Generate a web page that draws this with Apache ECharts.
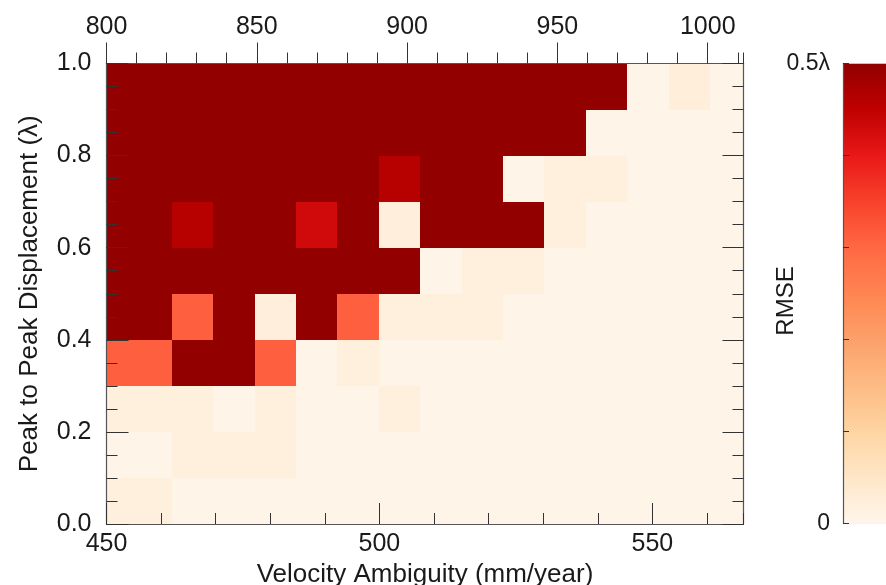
<!DOCTYPE html>
<html>
<head>
<meta charset="utf-8">
<title>RMSE vs velocity ambiguity and displacement</title>
<script src="https://cdn.jsdelivr.net/npm/echarts@6/dist/echarts.min.js"></script>
<style>
  html, body { margin: 0; padding: 0; background: #ffffff; }
  #chart { width: 886px; height: 585px; }
</style>
</head>
<body>
<div id="chart"></div>
<script>
// Column edges along the velocity-ambiguity axis (mm/year)
const velocityEdges = [450, 462.0, 469.6, 477.2, 484.8, 492.3, 499.9, 507.5, 515.1, 522.7, 530.2, 537.8, 545.4, 553.0, 560.6, 568.2];
// Row edges along the peak-to-peak displacement axis (wavelengths)
const displacementEdges = [0, 0.1, 0.2, 0.3, 0.4, 0.5, 0.6, 0.7, 0.8, 0.9, 1.0];

// RMSE (in wavelengths) per cell, one list per displacement row, bottom row first
const rmseRow0 = [0.018, 0.005, 0.005, 0.005, 0.005, 0.005, 0.005, 0.005, 0.005, 0.005, 0.005, 0.005, 0.005, 0.005, 0.005];
const rmseRow1 = [0.005, 0.018, 0.018, 0.018, 0.005, 0.005, 0.005, 0.005, 0.005, 0.005, 0.005, 0.005, 0.005, 0.005, 0.005];
const rmseRow2 = [0.018, 0.018, 0.005, 0.018, 0.005, 0.005, 0.018, 0.005, 0.005, 0.005, 0.005, 0.005, 0.005, 0.005, 0.005];
const rmseRow3 = [0.31, 0.5, 0.5, 0.31, 0.005, 0.018, 0.005, 0.005, 0.005, 0.005, 0.005, 0.005, 0.005, 0.005, 0.005];
const rmseRow4 = [0.5, 0.31, 0.5, 0.022, 0.5, 0.31, 0.018, 0.018, 0.018, 0.005, 0.005, 0.005, 0.005, 0.005, 0.005];
const rmseRow5 = [0.5, 0.5, 0.5, 0.5, 0.5, 0.5, 0.5, 0.005, 0.018, 0.018, 0.005, 0.005, 0.005, 0.005, 0.005];
const rmseRow6 = [0.5, 0.46, 0.5, 0.5, 0.43, 0.5, 0.022, 0.5, 0.5, 0.5, 0.018, 0.005, 0.005, 0.005, 0.005];
const rmseRow7 = [0.5, 0.5, 0.5, 0.5, 0.5, 0.5, 0.46, 0.5, 0.5, 0.005, 0.018, 0.018, 0.005, 0.005, 0.005];
const rmseRow8 = [0.5, 0.5, 0.5, 0.5, 0.5, 0.5, 0.5, 0.5, 0.5, 0.5, 0.5, 0.005, 0.005, 0.005, 0.005];
const rmseRow9 = [0.5, 0.5, 0.5, 0.5, 0.5, 0.5, 0.5, 0.5, 0.5, 0.5, 0.5, 0.5, 0.005, 0.025, 0.005];
const rmseRows = [rmseRow0, rmseRow1, rmseRow2, rmseRow3, rmseRow4, rmseRow5, rmseRow6, rmseRow7, rmseRow8, rmseRow9];

// Axis ranges
const bottomRange = [450, 566.7];
const topRange = [800, 1011.9];
const rmseRange = [0, 0.5];

// Colour ramp of the RMSE scale, low to high
const rmseColors = ['#fff5eb', '#fee6c8', '#fdd5a2', '#fdbb84', '#fca06a', '#ff8550', '#ff6844', '#f8412b', '#e81818', '#c00000', '#920000'];

const cells = [];
rmseRows.forEach(function (row, r) {
  row.forEach(function (v, c) {
    cells.push([velocityEdges[c], velocityEdges[c + 1], displacementEdges[r], displacementEdges[r + 1], v]);
  });
});

const FONT = 'Liberation Sans, Arial, sans-serif';
const TEXT = '#1a1a1a';
const FRAME = '#555555';
const TICK = '#333333';

// One rectangle per cell, snapped to whole pixels so neighbours meet without seams
function renderCell(params, api) {
  const a = api.coord([api.value(0), api.value(3)]);
  const b = api.coord([api.value(1), api.value(2)]);
  const cs = params.coordSys;
  const x0 = Math.round(Math.max(a[0], cs.x));
  const x1 = Math.round(Math.min(b[0], cs.x + cs.width));
  const y0 = Math.round(Math.max(a[1], cs.y));
  const y1 = Math.round(Math.min(b[1], cs.y + cs.height));
  if (x1 <= x0 || y1 <= y0) return null;
  return {
    type: 'rect',
    shape: { x: x0, y: y0, width: x1 - x0, height: y1 - y0 },
    style: { fill: api.visual('color') }
  };
}

function plainNumber(v) { return String(Math.round(v)); }

// Shared base for the frame axes; grid 0 carries the major ticks and labels,
// grid 2 sits on the same rectangle and carries the minor ticks.
function tickAxis(extra) {
  return Object.assign({
    type: 'value',
    z: 10,
    splitLine: { show: false },
    axisLine: { show: false, onZero: false },
    axisLabel: { show: false },
    axisTick: { show: true, inside: true, length: 11, lineStyle: { color: TICK, width: 1 } }
  }, extra);
}

const plotRect = { left: 106.5, top: 63.5, width: 637, height: 460.5, containLabel: false, outerBoundsMode: 'none' };

const chart = echarts.init(document.getElementById('chart'), null, { renderer: 'canvas' });

chart.setOption({
  animation: false,
  backgroundColor: '#ffffff',
  grid: [
    Object.assign({}, plotRect),
    { left: 843, top: 63.5, width: 60, height: 460, containLabel: false, outerBoundsMode: 'none' },
    Object.assign({}, plotRect)
  ],
  xAxis: [
    tickAxis({
      gridIndex: 0, position: 'bottom', min: bottomRange[0], max: bottomRange[1], interval: 50,
      axisLine: { show: true, onZero: false, lineStyle: { color: FRAME, width: 1.2 } },
      axisTick: { show: true, inside: true, length: 21, lineStyle: { color: TICK, width: 1 } },
      axisLabel: { show: true, margin: 8, showMaxLabel: false, color: TEXT, fontFamily: FONT, fontSize: 25, formatter: plainNumber },
      name: 'Velocity Ambiguity (mm/year)', nameLocation: 'middle', nameGap: 31,
      nameTextStyle: { color: TEXT, fontFamily: FONT, fontSize: 26 }
    }),
    tickAxis({
      gridIndex: 0, position: 'top', min: topRange[0], max: topRange[1], interval: 50,
      axisLine: { show: true, onZero: false, lineStyle: { color: FRAME, width: 1.2 } },
      axisTick: { show: true, inside: false, length: 21, lineStyle: { color: TICK, width: 1 } },
      axisLabel: { show: true, margin: 24, showMaxLabel: false, color: TEXT, fontFamily: FONT, fontSize: 25, formatter: plainNumber }
    }),
    { type: 'value', gridIndex: 1, show: false, min: 0, max: 1 },
    tickAxis({ gridIndex: 2, position: 'bottom', min: bottomRange[0], max: bottomRange[1], interval: 10 }),
    tickAxis({
      gridIndex: 2, position: 'top', min: topRange[0], max: topRange[1], interval: 10,
      axisTick: { show: true, inside: false, length: 11, lineStyle: { color: TICK, width: 1 } }
    })
  ],
  yAxis: [
    tickAxis({
      gridIndex: 0, position: 'left', min: 0, max: 1, interval: 0.2,
      axisLine: { show: true, onZero: false, lineStyle: { color: FRAME, width: 1.2 } },
      axisTick: { show: true, inside: true, length: 22, lineStyle: { color: TICK, width: 1 } },
      axisLabel: {
        show: true, margin: 15, color: TEXT, fontFamily: FONT, fontSize: 25,
        formatter: function (v) { return v.toFixed(1); }
      },
      name: 'Peak to Peak Displacement (\u03bb)', nameLocation: 'middle', nameGap: 64, nameRotate: 90,
      nameTextStyle: { color: TEXT, fontFamily: FONT, fontSize: 26 }
    }),
    tickAxis({
      gridIndex: 0, position: 'right', min: 0, max: 1, interval: 0.2,
      axisLine: { show: true, onZero: false, lineStyle: { color: FRAME, width: 1.2 } },
      axisTick: { show: true, inside: true, length: 21, lineStyle: { color: TICK, width: 1 } }
    }),
    {
      type: 'value', gridIndex: 1, position: 'left', z: 10,
      min: rmseRange[0], max: rmseRange[1], interval: 0.1,
      splitLine: { show: false },
      axisLine: { show: true, onZero: false, lineStyle: { color: FRAME, width: 1.2 } },
      axisTick: { show: true, inside: true, length: 6, lineStyle: { color: TICK, width: 1 } },
      axisLabel: {
        show: true, margin: 13, color: TEXT, fontFamily: FONT, fontSize: 23,
        formatter: function (v) {
          if (v === 0) return '0';
          if (Math.abs(v - 0.5) < 1e-9) return '0.5\u03bb';
          return '';
        }
      }
    },
    tickAxis({ gridIndex: 2, position: 'left', min: 0, max: 1, interval: 0.05 }),
    tickAxis({ gridIndex: 2, position: 'right', min: 0, max: 1, interval: 0.05 })
  ],
  graphic: [{
    type: 'text',
    x: 786,
    y: 301,
    rotation: Math.PI / 2,
    style: {
      text: 'RMSE',
      fill: TEXT,
      font: '24px "Liberation Sans", Arial, sans-serif',
      align: 'center',
      verticalAlign: 'middle'
    }
  }],
  visualMap: {
    type: 'continuous',
    seriesIndex: 0,
    dimension: 4,
    min: rmseRange[0],
    max: rmseRange[1],
    orient: 'vertical',
    left: 843,
    top: 63.5,
    padding: 0,
    itemWidth: 60,
    itemHeight: 460,
    calculable: false,
    hoverLink: false,
    z: 1,
    inRange: { color: rmseColors }
  },
  series: [{
    type: 'custom',
    coordinateSystem: 'cartesian2d',
    xAxisIndex: 0,
    yAxisIndex: 0,
    z: 2,
    renderItem: renderCell,
    encode: { x: [0, 1], y: [2, 3] },
    data: cells
  }]
});
</script>
</body>
</html>
